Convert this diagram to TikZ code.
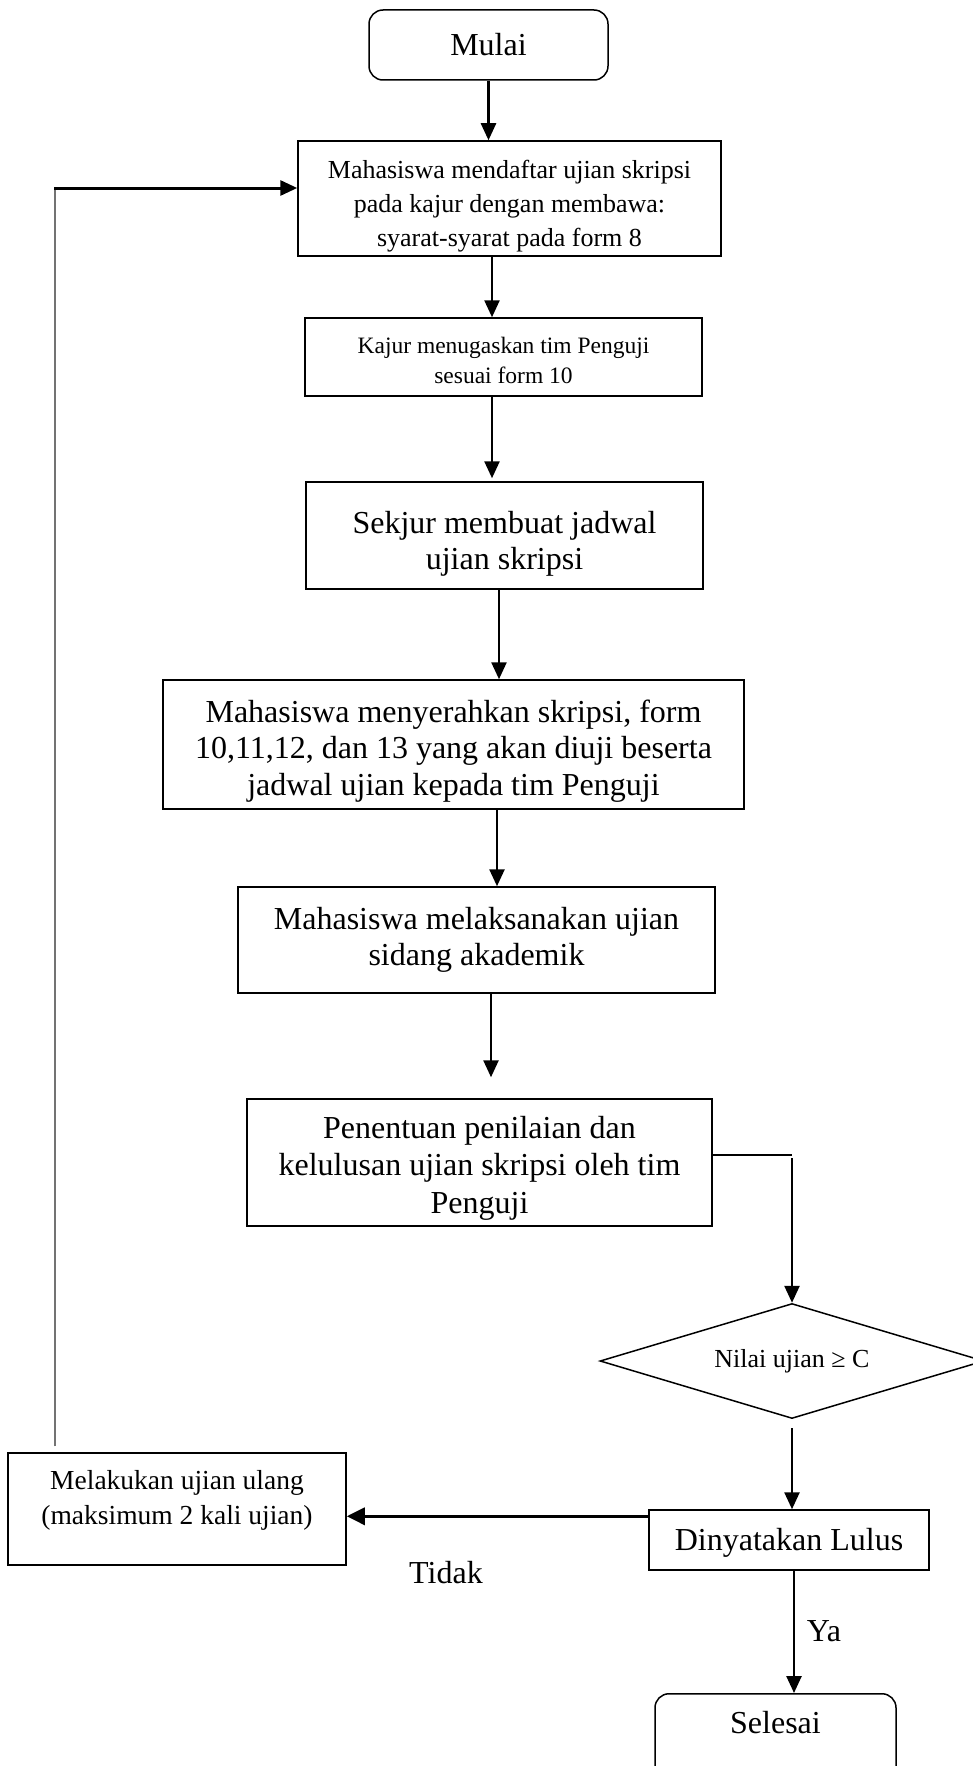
\documentclass[tikz,border=0pt]{standalone}
\usepackage{fontspec}
\setmainfont{Liberation Serif}
\usetikzlibrary{shapes.geometric,arrows.meta,calc}
\newcommand\dnstrut[1]{\rule{0pt}{#1}}
\tikzset{
  box/.style={draw, line width=1.5pt, rectangle, inner sep=0pt, align=center},
  term/.style={box, rounded corners=14pt},
  big/.style={font=\fontsize{32}{36.5}\selectfont},
  arr/.style={line width=2.5pt, -{Triangle[length=17pt,width=15pt]}},
  thickarr/.style={line width=3.5pt, -{Triangle[length=18pt,width=17pt]}},
  fbarr/.style={line width=3pt, -{Triangle[length=17pt,width=15pt]}},
  thinline/.style={line width=1.5pt},
  fbline/.style={line width=1.3pt, draw=black!55},
}
\begin{document}
\begin{tikzpicture}[x=1pt,y=-1pt]
\useasboundingbox (0,0) rectangle (973,1766);
\node[term, big, minimum width=239pt, minimum height=70pt] (mulai) at (488.5,45) {Mulai};
\node[box, font=\fontsize{26}{34}\selectfont, minimum width=423pt, minimum height=115pt] (daftar) at (509.5,198.5)
  {\dnstrut{33pt}Mahasiswa mendaftar ujian skripsi\\pada kajur dengan membawa:\\syarat-syarat pada form 8};
\node[box, font=\fontsize{23.5}{30}\selectfont, minimum width=397pt, minimum height=78pt] (tugas) at (503.5,357)
  {\dnstrut{23pt}Kajur menugaskan tim Penguji\\sesuai form 10};
\node[box, big, minimum width=397pt, minimum height=107pt] (jadwal) at (504.5,535.5)
  {\dnstrut{39pt}Sekjur membuat jadwal\\ujian skripsi};
\node[box, big, minimum width=581pt, minimum height=129pt] (serah) at (453.5,744.5)
  {\dnstrut{35pt}Mahasiswa menyerahkan skripsi, form\\10,11,12, dan 13 yang akan diuji beserta\\jadwal ujian kepada tim Penguji};
\node[box, big, minimum width=477pt, minimum height=106pt] (laksana) at (476.5,940)
  {Mahasiswa melaksanakan ujian\\sidang akademik};
\node[box, font=\fontsize{32}{37.5}\selectfont, minimum width=465pt, minimum height=127pt] (tentu) at (479.5,1162.5)
  {\dnstrut{33pt}Penentuan penilaian dan\\kelulusan ujian skripsi oleh tim\\Penguji};
\node[draw, line width=1.5pt, diamond, aspect=3.34, inner sep=0pt, minimum width=384pt, minimum height=115pt,
  font=\fontsize{26}{30}\selectfont] (nilai) at (792,1361) {Nilai ujian ≥ C};
\node[box, big, minimum width=280pt, minimum height=60pt] (lulus) at (789,1540) {\dnstrut{27pt}Dinyatakan Lulus};
\node[box, minimum width=338pt, minimum height=112pt] (ulang) at (177,1509) {};
\node[align=center, inner sep=0pt, font=\fontsize{27.5}{35}\selectfont] (ulangtxt) at (177,1500.5)
  {Melakukan ujian ulang\\(maksimum 2 kali ujian)};
\node[term, big, anchor=north, minimum width=241pt, text height=40pt, text depth=60pt] (selesai) at (775.5,1693) {Selesai};
\node[big, inner sep=0pt] (tidak) at (446,1573) {Tidak};
\node[big, inner sep=0pt] (ya) at (824,1631) {Ya};

\draw[arr] (mulai.south) -- (mulai.south |- daftar.north);
\draw[arr] ([xshift=-17.5pt]daftar.south) -- ([xshift=-17.5pt]daftar.south |- tugas.north);
\draw[arr] ([xshift=-11.5pt]tugas.south) -- ([xshift=-11.5pt,yshift=3pt]tugas.south |- jadwal.north);
\draw[arr] ([xshift=-5.5pt]jadwal.south) -- ([xshift=-5.5pt]jadwal.south |- serah.north);
\draw[arr] ([xshift=43.5pt]serah.south) -- ([xshift=43.5pt]serah.south |- laksana.north);
\draw[arr] ([xshift=14.5pt]laksana.south) -- ([xshift=14.5pt,yshift=21pt]laksana.south |- tentu.north);
\coordinate (tcorner) at ([yshift=7.5pt]tentu.east -| nilai.north);
\draw[thinline] ([yshift=7.5pt]tentu.east) -- (tcorner);
\draw[arr] ([yshift=-3pt]tcorner) -- (nilai.north);
\draw[arr] ([yshift=-9pt]nilai.south) -- (nilai.south |- lulus.north);
\draw[thickarr] ([yshift=-7pt]lulus.north west) -- ([yshift=-7pt]lulus.north west -| ulang.east);
\draw[arr] ([xshift=5pt]lulus.south) -- ([xshift=5pt]lulus.south |- selesai.north);
\coordinate (fb) at (55,188);
\draw[fbline] ([yshift=6pt]ulang.north west -| fb) -- (fb);
\draw[fbarr] ([xshift=-1pt]fb) -- (fb -| daftar.west);
\end{tikzpicture}
\end{document}
